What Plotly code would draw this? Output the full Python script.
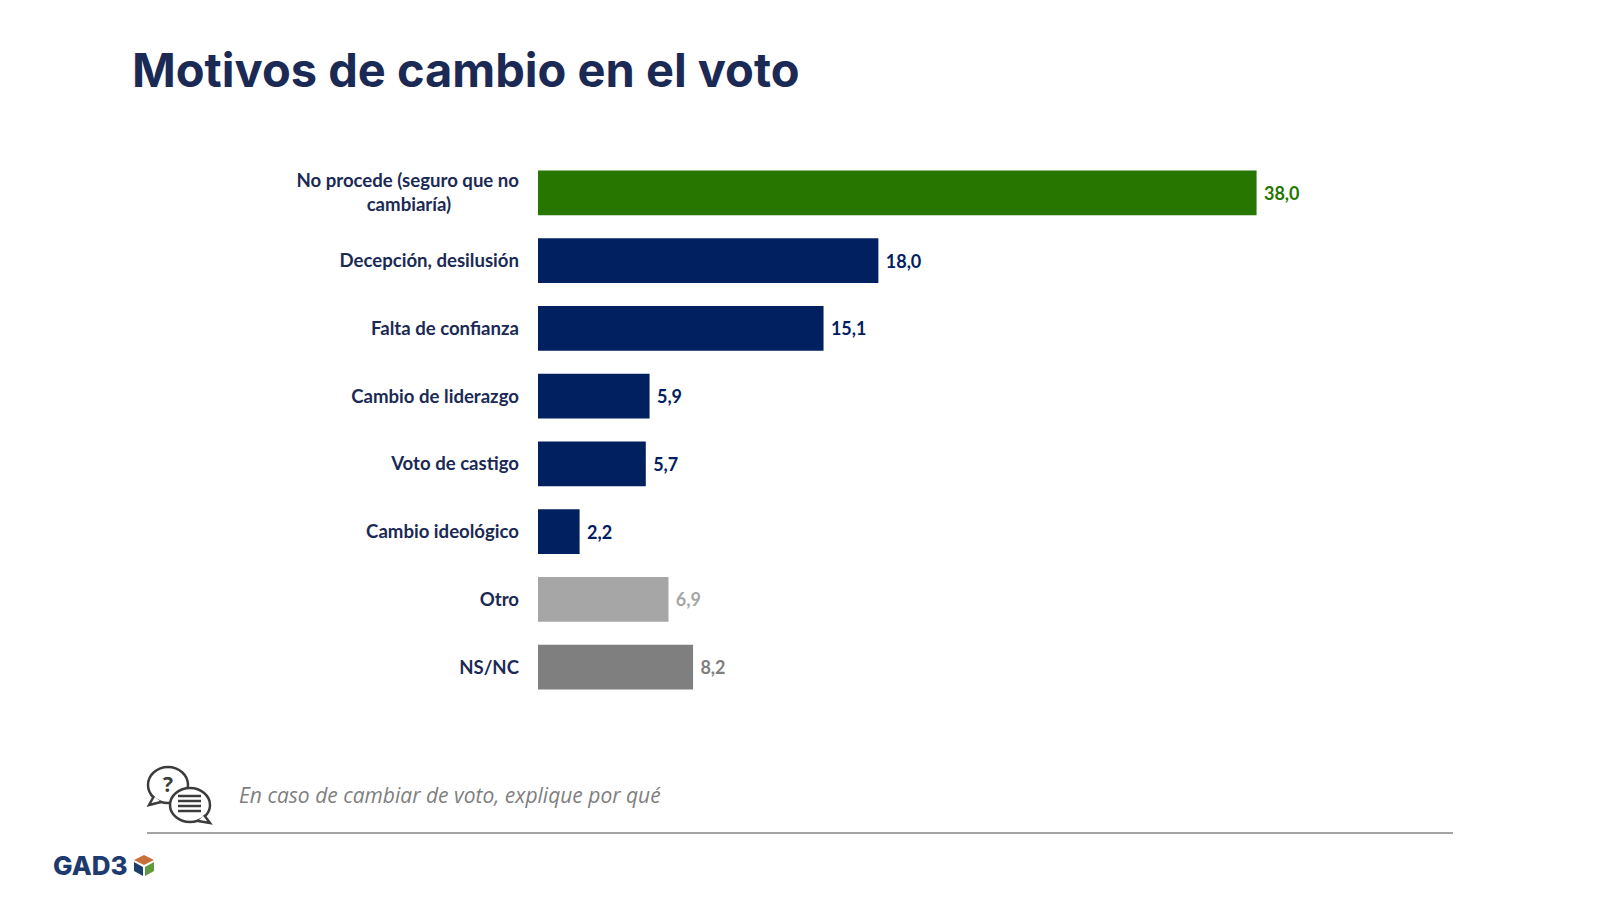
import plotly.graph_objects as go

NBSP = '\u00a0'

categorias = [
    'No procede (seguro que no<br>cambiaría)' + NBSP * 15,
    'Decepción, desilusión',
    'Falta de confianza',
    'Cambio de liderazgo',
    'Voto de castigo',
    'Cambio ideológico',
    'Otro',
    'NS/NC',
]
valores = [38.0, 18.0, 15.1, 5.9, 5.7, 2.2, 6.9, 8.2]
colores = ['#267600', '#002060', '#002060', '#002060', '#002060', '#002060', '#a6a6a6', '#7f7f7f']
colores_texto = ['#267600', '#002060', '#002060', '#002060', '#002060', '#002060', '#a6a6a6', '#7f7f7f']

W, H = 1600, 900
NAVY = '#1b2a55'
ICONO = '#3c3c3c'


def px(x):
    return x / W


def py(y):
    return 1 - y / H


def ruta(puntos, cerrar=True):
    # puntos en pixeles de la pagina
    trozos = [f'{px(x):.5f},{py(y):.5f}' for x, y in puntos]
    return 'M' + ' L'.join(trozos) + (' Z' if cerrar else '')


def burbuja(cx, cy, rx, ry, cola):
    # elipse y colita abierta, la colita tapa el borde de la elipse en su base
    return [
        dict(type='circle', xref='paper', yref='paper',
             x0=px(cx - rx), x1=px(cx + rx), y0=py(cy + ry), y1=py(cy - ry),
             fillcolor='white', line=dict(color=ICONO, width=2.5)),
        dict(type='path', xref='paper', yref='paper', path=ruta(cola, cerrar=False),
             fillcolor='white', line=dict(color=ICONO, width=2.5)),
    ]


fig = go.Figure(go.Bar(
    y=categorias,
    x=valores,
    orientation='h',
    marker=dict(color=colores, line=dict(width=0)),
    text=valores,
    texttemplate=NBSP + '%{x:.1f}',
    textposition='outside',
    cliponaxis=False,
    textfont=dict(family='Lato', size=18, color=colores_texto, weight='bold'),
))

formas = [
    # linea inferior
    dict(type='line', xref='paper', yref='paper', x0=px(147), x1=px(1453), y0=py(833), y1=py(833),
         line=dict(color='#a3a3a3', width=2)),
    # cubo del logo
    dict(type='path', xref='paper', yref='paper',
         path=ruta([(144, 855), (154, 860), (144, 865), (134, 860)]),
         fillcolor='#c8703a', line=dict(width=0)),
    dict(type='path', xref='paper', yref='paper',
         path=ruta([(134, 862), (143, 867), (143, 876), (134, 871)]),
         fillcolor='#1f3f6b', line=dict(width=0)),
    dict(type='path', xref='paper', yref='paper',
         path=ruta([(154, 862), (145, 867), (145, 876), (154, 871)]),
         fillcolor='#5f9a3c', line=dict(width=0)),
]
# icono: burbuja de la pregunta y burbuja de texto
formas += burbuja(168, 785, 20, 18, [(154, 796), (149, 805), (161, 802)])
formas += burbuja(190, 805, 20, 17, [(204, 815), (210, 823), (198, 821)])
# lineas de texto dentro de la burbuja
for y_linea in [796, 801, 806, 811]:
    formas.append(dict(type='line', xref='paper', yref='paper', x0=px(178), x1=px(201),
                       y0=py(y_linea), y1=py(y_linea), line=dict(color=ICONO, width=2.5)))

fig.update_layout(
    width=W,
    height=H,
    margin=dict(l=0, r=0, t=0, b=0),
    paper_bgcolor='white',
    plot_bgcolor='white',
    showlegend=False,
    separators=',.',
    bargap=0.34,
    shapes=formas,
    xaxis=dict(domain=[px(538), px(1388)], range=[0, 44.95], visible=False, showgrid=False),
    yaxis=dict(
        domain=[py(701), py(159)],
        autorange='reversed',
        showgrid=False,
        zeroline=False,
        showline=False,
        ticks='',
        ticklabelstandoff=18,
        tickfont=dict(family='Lato', size=18.6, color=NAVY, weight='bold'),
    ),
    annotations=[
        dict(text='<b>Motivos de cambio en el voto</b>', xref='paper', yref='paper', x=px(130), y=py(70),
             xanchor='left', yanchor='middle', showarrow=False,
             font=dict(family='Inter', size=47, color=NAVY)),
        dict(text='<i>En caso de cambiar de voto, explique por qué</i>', xref='paper', yref='paper',
             x=px(237), y=py(795), xanchor='left', yanchor='middle', showarrow=False,
             font=dict(family='Open Sans', size=21, color='#7f7f7f')),
        dict(text='GAD3', xref='paper', yref='paper', x=px(51), y=py(865),
             xanchor='left', yanchor='middle', showarrow=False,
             font=dict(family='Inter', size=26, color='#1f3a6e', weight=800)),
        dict(text='<b>?</b>', xref='paper', yref='paper', x=px(168), y=py(784),
             xanchor='center', yanchor='middle', showarrow=False,
             font=dict(family='Open Sans', size=21, color=ICONO)),
    ],
)

# sin barra de herramientas, sin margen de pagina y sin ligaduras (fi, ti)
fig.write_html(
    "out.html",
    config={'displayModeBar': False},
    post_script="document.body.style.margin='0';"
                "var s=document.createElement('style');"
                "s.textContent='text{font-variant-ligatures:none}';"
                "document.head.appendChild(s);",
)
